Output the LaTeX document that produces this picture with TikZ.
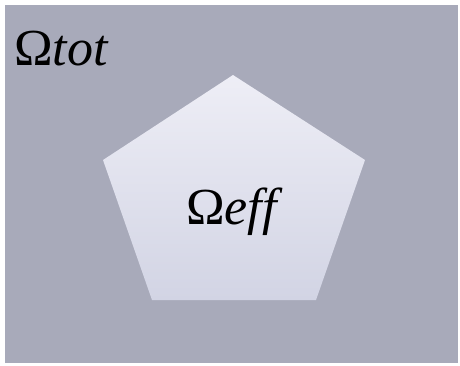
\documentclass[tikz,border=0pt]{standalone}
\usepackage{fontspec}
\setmainfont{Liberation Serif}
\usepackage{tikz}
\definecolor{bggray}{HTML}{A8AABA}
\definecolor{pentop}{HTML}{EEEEF6}
\definecolor{penbot}{HTML}{D2D4E4}

\begin{document}
\begin{tikzpicture}[
  x=1pt,y=-1pt,
  lbl/.style={inner sep=0pt,font=\fontsize{52}{58}\selectfont,anchor=base west}
]
\useasboundingbox (0,0) rectangle (460,365);
\fill[bggray] (5,5) rectangle (458,363);
% pentagon
\shade[top color=pentop,bottom color=penbot]
  (233,75) -- (365,160) -- (316,300) -- (152,300) -- (103,160) -- cycle;
\node[lbl] (tot) at (14,65) {Ω\textit{tot}};
\node[lbl] (eff) at (186,224) {Ω\textit{eff}};
\end{tikzpicture}
\end{document}
